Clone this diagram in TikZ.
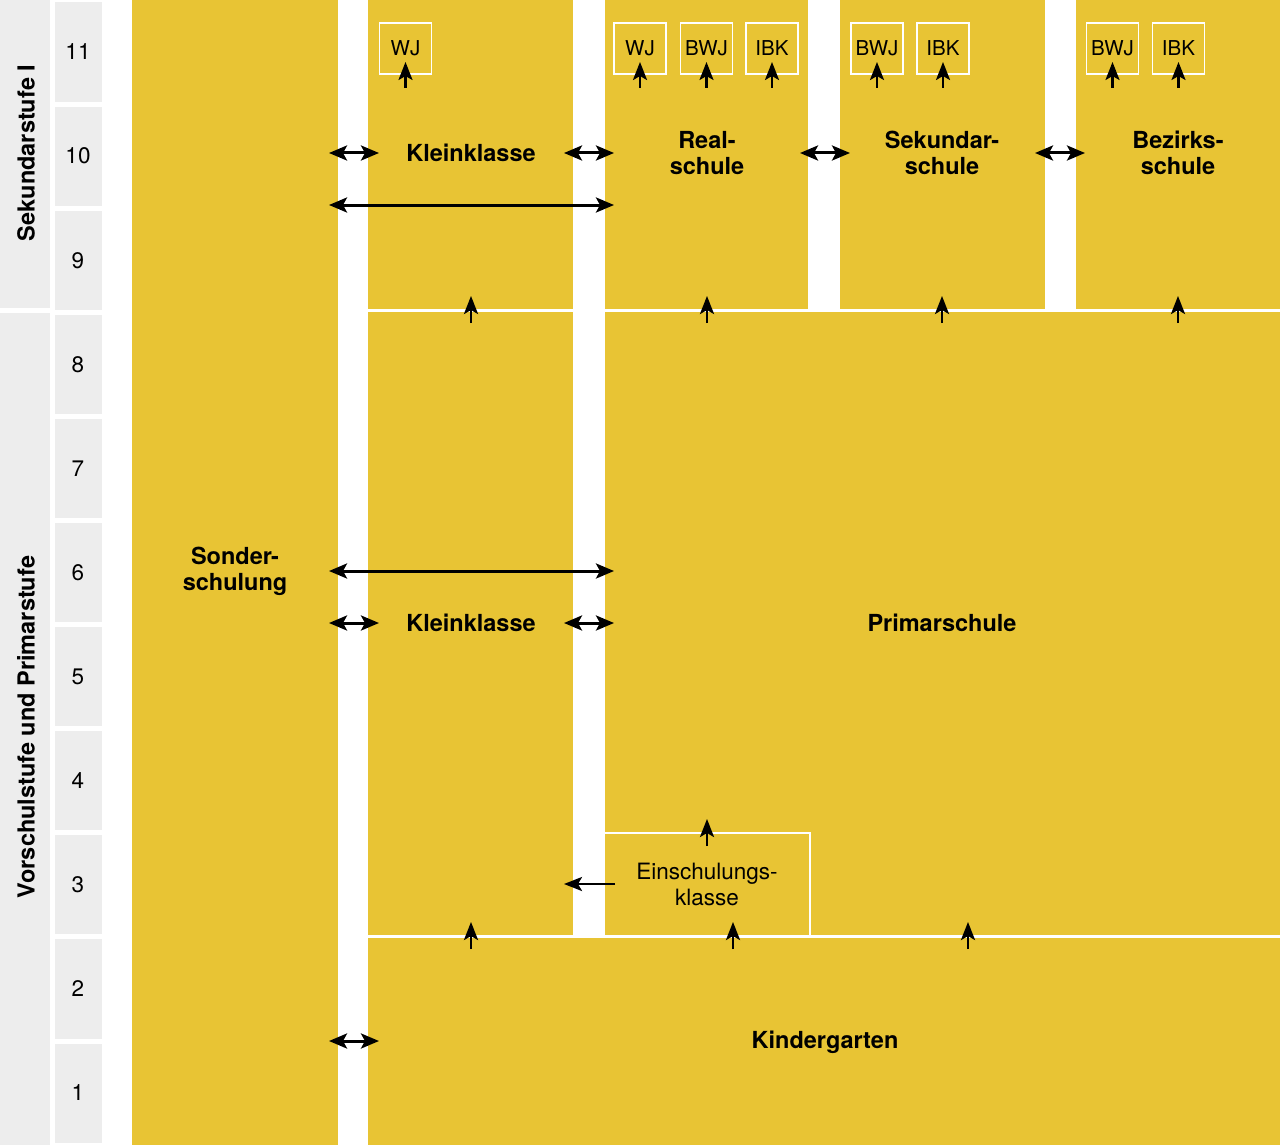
\documentclass[tikz,border=0pt]{standalone}
\usepackage{fontspec}
\setmainfont{TeX Gyre Heros}
\usetikzlibrary{positioning,arrows.meta}
\definecolor{schulgelb}{RGB}{232,196,52}
\definecolor{stufegrau}{RGB}{237,237,237}

\begin{document}
\begin{tikzpicture}[x=1pt,y=-1pt,
    feld/.style={
        fill=schulgelb
    },
    grau/.style={
        fill=stufegrau
    },
    trenn/.style={
        draw=white, line width=3pt
    },
    titel/.style={
        font=\fontsize{23.5}{26}\selectfont\bfseries, align=center, inner sep=0pt
    },
    nummer/.style={
        font=\fontsize{22.5}{26}\selectfont, inner sep=0pt
    },
    klein/.style={
        draw=white, line width=1.5pt, minimum width=52pt, minimum height=51pt,
        inner sep=0pt, font=\fontsize{20.5}{24}\selectfont
    },
    wechsel/.style={
        {Stealth[length=18pt,width=15pt,inset=4pt]}-{Stealth[length=18pt,width=15pt,inset=4pt]},
        line width=3pt
    },
    hoch/.style={
        -{Stealth[length=18pt,width=14pt,inset=4pt]}, line width=2.5pt
    }
]
    \useasboundingbox (0,0) rectangle (1280,1145);

    % Stufen und Schuljahre
    \fill[grau] (0,0) rectangle (50,307.5);
    \fill[grau] (0,313) rectangle (50,1145);
    \node[titel,rotate=90] (sek) at (26,153) {Sekundarstufe I};
    \node[titel,rotate=90] (prim) at (26,727) {Vorschulstufe und Primarstufe};
    \foreach \n in {1,...,11}{
        \fill[grau] (55,{(11-\n)*104.1+2.5}) rectangle (102,{(12-\n)*104.1-2.5});
        \node[nummer] (j\n) at (78,{(11-\n)*104.1+52}) {\n};
    }

    % Felder
    \fill[feld] (132,0) rectangle (338,1145);
    \fill[feld] (368,0) rectangle (1280,1145);
    \fill[white] (573,0) rectangle (605,936);
    \fill[white] (808,0) rectangle (840,310);
    \fill[white] (1045,0) rectangle (1076,310);
    \draw[trenn] (368,310) -- (573,310);
    \draw[trenn] (605,310) -- (1280,310);
    \draw[trenn] (368,936.5) -- (1280,936.5);
    \draw[white,line width=2pt] (605,833) -- (810,833) -- (810,936);

    \node[titel] (sonder) at (235,571) {Sonder-\\schulung};
    \node[titel] (klein_o) at (471,153) {Kleinklasse};
    \node[titel] (real) at (707,153) {Real-\\schule};
    \node[titel] (sekschule) at (942,153) {Sekundar-\\schule};
    \node[titel] (bez) at (1178,153) {Bezirks-\\schule};
    \node[titel] (klein_u) at (471,623) {Kleinklasse};
    \node[titel] (primar) at (942,623) {Primarschule};
    \node[titel] (kg) at (825,1042) {Kindergarten};
    \node[nummer,align=center] (einsch) at (707,884) {Einschulungs-\\klasse};

    % Anschlussboxen
    \foreach \x/\t [count=\i] in {405.5/WJ,640/WJ,706.5/BWJ,772/IBK,877/BWJ,943/IBK,1112.5/BWJ,1178.5/IBK}{
        \node[klein] (box\i) at (\x,48.5) {\t};
        \coordinate (bu\i) at (\x,88);
        \coordinate (bo\i) at (\x,62);
        \draw[hoch] (bu\i) -- (bo\i);
    }

    % Durchlaessigkeit
    \foreach \x [count=\i] in {329,564,800,1035}{
        \coordinate (wl\i) at (\x,153);
        \coordinate (wr\i) at (\x+50,153);
        \draw[wechsel] (wl\i) -- (wr\i);
    }
    \foreach \x/\y [count=\i] in {329/623,564/623,329/1041}{
        \coordinate (ul\i) at (\x,\y);
        \coordinate (ur\i) at (\x+50,\y);
        \draw[wechsel] (ul\i) -- (ur\i);
    }
    \foreach \y [count=\i] in {205,571}{
        \coordinate (ll\i) at (329,\y);
        \coordinate (lr\i) at (614,\y);
        \draw[wechsel] (ll\i) -- (lr\i);
    }

    % Uebertritte
    \foreach \x [count=\i] in {471,707,942,1178}{
        \coordinate (su\i) at (\x,323);
        \coordinate (so\i) at (\x,296);
        \draw[hoch] (su\i) -- (so\i);
    }
    \foreach \x [count=\i] in {471,733,968}{
        \coordinate (ku\i) at (\x,949);
        \coordinate (ko\i) at (\x,922);
        \draw[hoch] (ku\i) -- (ko\i);
    }
    \coordinate (eu) at (707,846);
    \coordinate (eo) at (707,819);
    \draw[hoch] (eu) -- (eo);
    \coordinate (er) at (615,884);
    \coordinate (el) at (564,884);
    \draw[hoch] (er) -- (el);

\end{tikzpicture}
\end{document}
